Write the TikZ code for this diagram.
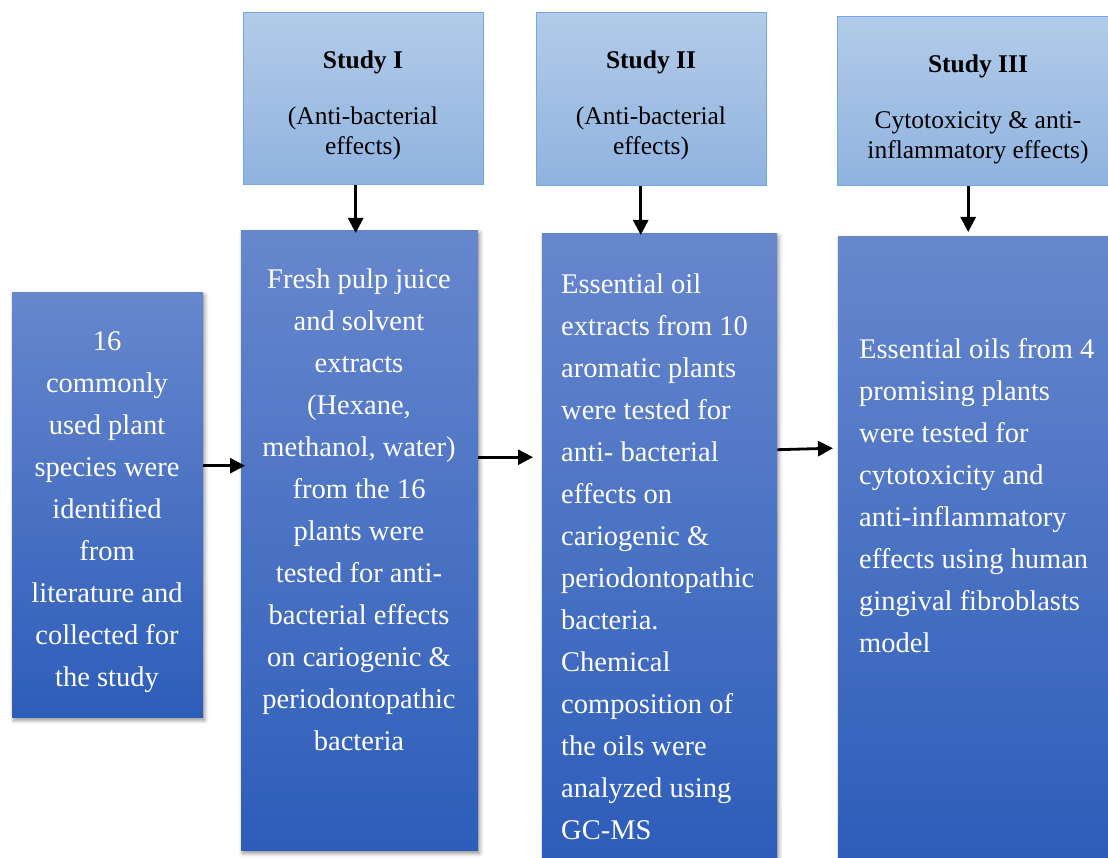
\documentclass[tikz,border=0pt]{standalone}
\usepackage{fontspec}
\setmainfont{Liberation Serif}
\usepackage{xcolor}
\usetikzlibrary{shadows.blur,arrows.meta}

\definecolor{boxtop}{HTML}{6787CD}
\definecolor{boxbot}{HTML}{2D5DBA}
\definecolor{headtop}{HTML}{B3CBE9}
\definecolor{headbot}{HTML}{8FB3DF}
\definecolor{headline}{HTML}{72A8E6}

\begin{document}
\begin{tikzpicture}[x=1pt, y=-1pt,
        head/.style={draw=headline, line width=1pt, top color=headtop,
            bottom color=headbot, anchor=north west, inner sep=0pt},
        bluebox/.style={top color=boxtop, bottom color=boxbot, anchor=north west,
            inner sep=0pt, blur shadow={shadow xshift=1.5pt, shadow yshift=-3pt,
            shadow blur radius=4pt, shadow opacity=45}},
        bodytext/.style={text=white, font=\fontsize{28.5}{42}\selectfont, inner sep=0pt},
        headtext/.style={font=\fontsize{25.5}{30}\selectfont, inner sep=0pt, anchor=base, align=center},
        arr/.style={line width=2.8pt, -{Triangle[length=15pt,width=15pt]}}]
    \useasboundingbox (0,0) rectangle (1108,858);

    \node[bluebox, minimum width=191pt, minimum height=425pt] (plants) at (12,292) {};
    \node[head, minimum width=240pt, minimum height=172pt] (study1) at (243,12) {};
    \node[bluebox, minimum width=237pt, minimum height=620pt] (juice) at (241,230) {};
    \node[head, minimum width=230pt, minimum height=173pt] (study2) at (536,12) {};
    \node[bluebox, minimum width=235pt, minimum height=625pt] (oils) at (542,233) {};
    \node[head, minimum width=271pt, minimum height=169pt] (study3) at (837,16) {};
    \node[bluebox, minimum width=270pt, minimum height=622pt] (cyto) at (838,236) {};

    % anchor=base sits on the last line
    \node[headtext] (study1txt) at (363,155) {\textbf{Study I}\\[26pt](Anti-bacterial\\effects)};
    \node[headtext] (study2txt) at (651,155) {\textbf{Study II}\\[26pt](Anti-bacterial\\effects)};
    \node[headtext] (study3txt) at (978,159) {\textbf{Study III}\\[26pt]Cytotoxicity \& anti-\\inflammatory effects)};

    \node[bodytext, anchor=base, align=center] (plantstxt) at (107,686) {16\\commonly\\used plant\\species were\\identified\\from\\literature and\\collected for\\the study};
    \node[bodytext, anchor=base, align=center] (juicetxt) at (359,750) {Fresh pulp juice\\and solvent\\extracts\\(Hexane,\\methanol, water)\\from the 16\\plants were\\tested for anti-\\bacterial effects\\on cariogenic \&\\periodontopathic\\bacteria};
    \node[bodytext, anchor=base west, align=left] (oilstxt) at (561,839) {Essential oil\\extracts from 10\\aromatic plants\\were tested for\\anti- bacterial\\effects on\\cariogenic \&\\periodontopathic\\bacteria.\\Chemical\\composition of\\the oils were\\analyzed using\\GC-MS};
    \node[bodytext, anchor=base west, align=left] (cytotxt) at (859,652) {Essential oils from 4\\promising plants\\were tested for\\cytotoxicity and\\anti-inflammatory\\effects using human\\gingival fibroblasts\\model};

    \draw[arr] ([xshift=-4pt]juice.north |- study1.south) -- ([xshift=-4pt,yshift=-3pt]juice.north);
    \draw[arr] ([xshift=-19pt]oils.north |- study2.south) -- ([xshift=-19pt,yshift=-2pt]oils.north);
    \draw[arr] ([xshift=-5pt]cyto.north |- study3.south) -- ([xshift=-5pt,yshift=4pt]cyto.north);
    \draw[arr] ([yshift=39pt]plants.east) -- ([xshift=4pt,yshift=39pt]plants.east -| juice.west);
    \draw[arr] ([yshift=83pt]juice.east) -- ([xshift=-9pt,yshift=83pt]juice.east -| oils.west);
    \draw[arr] ([yshift=96pt]oils.east) -- ([xshift=-5pt,yshift=99pt]cyto.west);
\end{tikzpicture}
\end{document}
